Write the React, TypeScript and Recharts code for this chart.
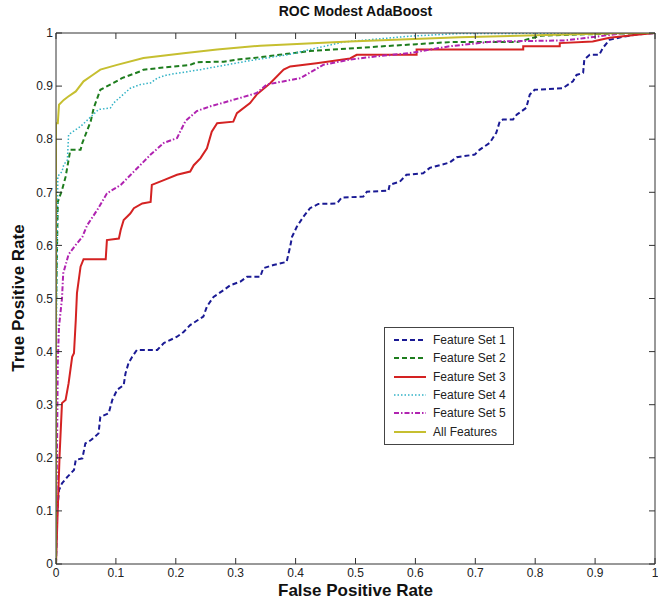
import { LineChart, Line, XAxis, YAxis, Legend } from "recharts";

// ROC points as [false positive rate, true positive rate]
const featureSet1 = [
  [0, 0], [0.002, 0.1], [0.005, 0.139], [0.01, 0.152], [0.019, 0.164], [0.03, 0.177],
  [0.033, 0.196], [0.044, 0.199], [0.049, 0.227], [0.058, 0.233], [0.071, 0.246],
  [0.074, 0.277], [0.088, 0.284], [0.094, 0.309], [0.102, 0.328], [0.113, 0.337],
  [0.116, 0.359], [0.121, 0.378], [0.127, 0.39], [0.135, 0.403], [0.169, 0.403],
  [0.18, 0.416], [0.202, 0.428], [0.213, 0.437], [0.224, 0.45], [0.246, 0.466],
  [0.252, 0.485], [0.263, 0.503], [0.28, 0.516], [0.291, 0.525], [0.308, 0.532],
  [0.319, 0.541], [0.341, 0.541], [0.346, 0.557], [0.363, 0.563], [0.385, 0.569],
  [0.391, 0.598], [0.394, 0.616], [0.402, 0.635], [0.413, 0.654], [0.424, 0.67],
  [0.438, 0.678], [0.469, 0.679], [0.477, 0.69], [0.513, 0.692], [0.519, 0.701],
  [0.555, 0.703], [0.557, 0.714], [0.574, 0.72], [0.585, 0.733], [0.613, 0.736],
  [0.624, 0.746], [0.657, 0.756], [0.669, 0.766], [0.699, 0.771], [0.707, 0.78],
  [0.724, 0.793], [0.735, 0.812], [0.741, 0.834], [0.746, 0.837], [0.763, 0.837],
  [0.769, 0.846], [0.785, 0.859], [0.791, 0.884], [0.799, 0.893], [0.846, 0.896],
  [0.863, 0.909], [0.869, 0.921], [0.88, 0.925], [0.882, 0.95], [0.891, 0.959],
  [0.907, 0.959], [0.913, 0.972], [0.924, 0.987], [0.946, 0.993], [0.969, 0.997], [1, 1],
];

const featureSet2 = [
  [0, 0], [0, 0.48], [0.003, 0.682], [0.01, 0.704], [0.016, 0.729], [0.024, 0.78],
  [0.041, 0.78], [0.044, 0.793], [0.058, 0.834], [0.063, 0.859], [0.074, 0.893],
  [0.096, 0.906], [0.11, 0.915], [0.141, 0.928], [0.146, 0.931], [0.224, 0.94],
  [0.235, 0.945], [0.28, 0.946], [0.302, 0.95], [0.33, 0.953], [0.424, 0.966],
  [0.546, 0.975], [0.602, 0.979], [0.66, 0.983], [0.77, 0.983], [0.81, 0.995],
  [0.9, 0.998], [1, 1],
];

const featureSet3 = [
  [0, 0], [0.003, 0.105], [0.006, 0.205], [0.01, 0.303], [0.016, 0.309], [0.021, 0.34],
  [0.027, 0.39], [0.03, 0.397], [0.033, 0.459], [0.035, 0.51], [0.041, 0.56],
  [0.046, 0.574], [0.083, 0.574], [0.085, 0.61], [0.105, 0.613], [0.108, 0.629],
  [0.113, 0.648], [0.124, 0.66], [0.13, 0.67], [0.144, 0.679], [0.158, 0.682],
  [0.16, 0.714], [0.18, 0.723], [0.202, 0.733], [0.224, 0.739], [0.23, 0.751],
  [0.241, 0.764], [0.252, 0.783], [0.26, 0.814], [0.269, 0.83], [0.296, 0.833],
  [0.302, 0.849], [0.324, 0.868], [0.335, 0.884], [0.358, 0.906], [0.38, 0.931],
  [0.391, 0.937], [0.435, 0.943], [0.491, 0.952], [0.502, 0.959], [0.602, 0.959],
  [0.602, 0.969], [0.78, 0.969], [0.78, 0.975], [0.841, 0.975], [0.841, 0.981],
  [0.896, 0.984], [0.924, 0.991], [0.974, 0.997], [1, 1],
];

const featureSet4 = [
  [0, 0], [0.001, 0.48], [0.003, 0.73], [0.01, 0.739], [0.013, 0.752], [0.019, 0.761],
  [0.021, 0.808], [0.024, 0.811], [0.041, 0.824], [0.058, 0.842], [0.071, 0.856],
  [0.091, 0.859], [0.096, 0.868], [0.124, 0.896], [0.141, 0.903], [0.158, 0.906],
  [0.169, 0.915], [0.185, 0.921], [0.241, 0.931], [0.285, 0.94], [0.324, 0.948],
  [0.391, 0.96], [0.424, 0.969], [0.48, 0.983], [0.59, 0.994], [0.674, 0.999], [1, 1],
];

const featureSet5 = [
  [0, 0], [0.003, 0.378], [0.005, 0.447], [0.01, 0.5], [0.012, 0.547], [0.021, 0.583],
  [0.033, 0.601], [0.044, 0.616], [0.052, 0.638], [0.069, 0.667], [0.085, 0.698],
  [0.108, 0.714], [0.13, 0.739], [0.158, 0.771], [0.18, 0.793], [0.202, 0.802],
  [0.216, 0.834], [0.235, 0.853], [0.258, 0.862], [0.296, 0.874], [0.335, 0.887],
  [0.352, 0.903], [0.408, 0.915], [0.446, 0.94], [0.491, 0.95], [0.535, 0.956],
  [0.59, 0.962], [0.657, 0.975], [0.73, 0.984], [0.85, 0.986], [0.88, 0.99],
  [0.95, 1], [1, 1],
];

const allFeatures = [
  [0, 0], [0, 0.83], [0.003, 0.83], [0.005, 0.865], [0.013, 0.874], [0.02, 0.88],
  [0.033, 0.89], [0.046, 0.909], [0.06, 0.92], [0.074, 0.931], [0.102, 0.94],
  [0.146, 0.953], [0.213, 0.962], [0.269, 0.969], [0.341, 0.976], [0.49, 0.984],
  [0.674, 0.992], [0.85, 0.997], [0.95, 1], [1, 1],
];

const xTicks = [0, 0.1, 0.2, 0.3, 0.4, 0.5, 0.6, 0.7, 0.8, 0.9, 1];
const yTicks = [0, 0.1, 0.2, 0.3, 0.4, 0.5, 0.6, 0.7, 0.8, 0.9, 1];

const toPoints = (pts: number[][]) => pts.map(([fpr, tpr]) => ({ fpr, tpr }));

const series = [
  { name: "Feature Set 1", points: toPoints(featureSet1), color: "#1a1a94", dash: "5 3", width: 2 },
  { name: "Feature Set 2", points: toPoints(featureSet2), color: "#1e7d1e", dash: "5 3", width: 2 },
  { name: "Feature Set 3", points: toPoints(featureSet3), color: "#d42222", dash: undefined, width: 2 },
  { name: "Feature Set 4", points: toPoints(featureSet4), color: "#33b3c6", dash: "1.5 2", width: 1.5 },
  { name: "Feature Set 5", points: toPoints(featureSet5), color: "#b023b0", dash: "5 2 1.5 2", width: 2 },
  { name: "All Features", points: toPoints(allFeatures), color: "#c6bf30", dash: undefined, width: 2 },
];

const font = "'Liberation Sans', Arial, sans-serif";
const tickStyle = { fontSize: 12, fill: "#222", fontFamily: font };
const fmt = (v: number) => String(v);
const blank = () => "";

function LegendBox() {
  return (
    <div style={{ border: "1px solid #444", background: "#fff", width: 128, padding: "3px 0", fontFamily: font, fontSize: 12, color: "#222" }}>
      {series.map((s) => (
        <div key={s.name} style={{ display: "flex", alignItems: "center", height: 18.3 }}>
          <svg width={41} height={10}>
            <line x1={9} x2={41} y1={5} y2={5} stroke={s.color} strokeWidth={s.width} strokeDasharray={s.dash} />
          </svg>
          <span style={{ marginLeft: 7, lineHeight: "14px" }}>{s.name}</span>
        </div>
      ))}
    </div>
  );
}

export default function App() {
  return (
    <div style={{ position: "absolute", left: 0, top: 0, width: 658, height: 609, background: "#fff" }}>
      <LineChart width={658} height={609} margin={{ top: 23, right: 2, bottom: 15, left: 16 }}>
        <XAxis xAxisId="bottom" type="number" dataKey="fpr" domain={[0, 1]} ticks={xTicks}
          tickFormatter={fmt} height={30} tickSize={-6} tickMargin={10} tick={tickStyle}
          stroke="#333" allowDataOverflow />
        <XAxis xAxisId="top" orientation="top" type="number" dataKey="fpr" domain={[0, 1]} ticks={xTicks}
          tickFormatter={blank} height={10} tickSize={-6} stroke="#333" allowDataOverflow />
        <YAxis yAxisId="left" type="number" domain={[0, 1]} ticks={yTicks} tickFormatter={fmt}
          width={40} tickSize={-6} tickMargin={9} tick={tickStyle} stroke="#333" allowDataOverflow />
        <YAxis yAxisId="right" orientation="right" type="number" domain={[0, 1]} ticks={yTicks}
          tickFormatter={blank} width={1} tickSize={-6} stroke="#333" allowDataOverflow />
        {series.map((s) => (
          <Line key={s.name} name={s.name} data={s.points} dataKey="tpr" xAxisId="bottom" yAxisId="left"
            type="linear" stroke={s.color} strokeWidth={s.width} strokeDasharray={s.dash}
            dot={false} activeDot={false} isAnimationActive={false} />
        ))}
        <Legend layout="vertical" align="center" verticalAlign="middle" content={() => <LegendBox />}
          wrapperStyle={{ left: 384, top: 327, width: 130 }} />
      </LineChart>
      <div style={{ position: "absolute", left: 56, width: 599, top: 3, textAlign: "center", fontFamily: font, fontWeight: "bold", fontSize: 14, color: "#111" }}>
        ROC Modest AdaBoost
      </div>
      <div style={{ position: "absolute", left: 56, width: 599, top: 581, textAlign: "center", fontFamily: font, fontWeight: "bold", fontSize: 17, color: "#111" }}>
        False Positive Rate
      </div>
      <div style={{ position: "absolute", left: 19, top: 298, transform: "translate(-50%, -50%) rotate(-90deg)", whiteSpace: "nowrap", fontFamily: font, fontWeight: "bold", fontSize: 17, color: "#111" }}>
        True Positive Rate
      </div>
    </div>
  );
}
